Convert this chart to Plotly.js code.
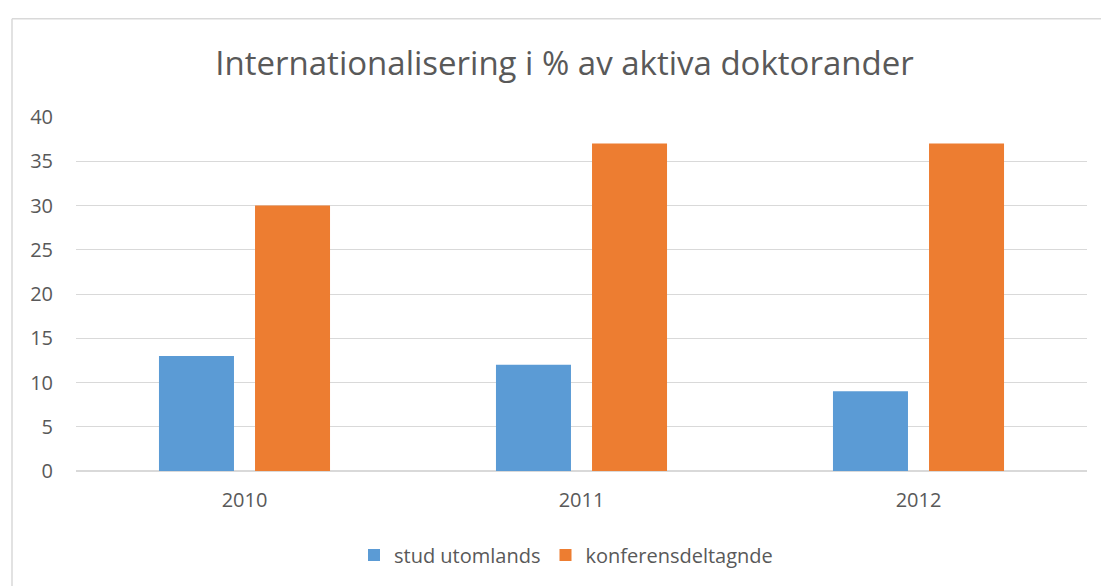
<!DOCTYPE html>
<html>
<head>
<meta charset="utf-8">
<script src="https://cdn.plot.ly/plotly-3.0.1.min.js"></script>
<style>html,body{margin:0;padding:0;background:#fff;}#chart{width:1101px;height:586px;}</style>
</head>
<body>
<div id="chart"></div>
<script>
const years = ['2010', '2011', '2012'];
const studUtomlands = [13, 12, 9];
const konferensdeltagnde = [30, 37, 37];
const seriesNames = ['stud utomlands', 'konferensdeltagnde'];
const yTicks = [0, 5, 10, 15, 20, 25, 30, 35, 40];

const FONT = 'Open Sans, Noto Sans, sans-serif';
const TXT = '#595959';

const traces = [
  {type: 'bar', x: years, y: studUtomlands, name: seriesNames[0], marker: {color: '#5b9bd5'}, hoverinfo: 'none'},
  {type: 'bar', x: years, y: konferensdeltagnde, name: seriesNames[1], marker: {color: '#ed7d31'}, hoverinfo: 'none'}
];

const L = 76, R = 14, T = 116.5, B = 115;
const pw = 1101 - L - R, ph = 586 - T - B;

const layout = {
  width: 1101, height: 586,
  margin: {l: L, r: R, t: T, b: B, pad: 0, autoexpand: false},
  paper_bgcolor: '#fff', plot_bgcolor: '#fff',
  font: {family: FONT, color: TXT, size: 20},
  title: {text: 'Internationalisering i % av aktiva doktorander', font: {family: FONT, size: 33, color: TXT},
          x: 564.5/1101, xanchor: 'center', y: 1 - 63/586, yanchor: 'middle', xref: 'container', yref: 'container'},
  barmode: 'group', bargap: 0.43, bargroupgap: 0.219,
  xaxis: {type: 'category', showgrid: false, zeroline: false, showline: false, ticks: '',
          tickfont: {family: FONT, size: 20, color: TXT}, ticklabelstandoff: 15},
  yaxis: {range: [0, 40], tickvals: yTicks, ticktext: yTicks.map(String), showgrid: true, gridcolor: '#d9d9d9', gridwidth: 1,
          zeroline: true, zerolinecolor: '#d9d9d9', zerolinewidth: 1.5, showline: false, ticks: '',
          tickfont: {family: FONT, size: 20, color: TXT}, ticklabelstandoff: 22},
  showlegend: true,
  legend: {orientation: 'h', xref: 'container', yref: 'container', x: 566/1101, xanchor: 'center',
           y: (586 - 555)/586, yanchor: 'middle',
           font: {family: FONT, size: 20, color: TXT}, tracegroupgap: 0, traceorder: 'normal'},
  shapes: [
    {type: 'line', xref: 'paper', yref: 'paper', x0: (12 - L)/pw, x1: (12 - L)/pw, y0: 1 + (T - 18)/ph, y1: -0.5, line: {color: '#d9d9d9', width: 1.5}},
    {type: 'line', xref: 'paper', yref: 'paper', x0: (12 - L)/pw, x1: 1.2, y0: 1 + (T - 18)/ph, y1: 1 + (T - 18)/ph, line: {color: '#d9d9d9', width: 1.5}}
  ]
};

Plotly.newPlot('chart', traces, layout, {displayModeBar: false, staticPlot: true});
</script>
</body>
</html>
